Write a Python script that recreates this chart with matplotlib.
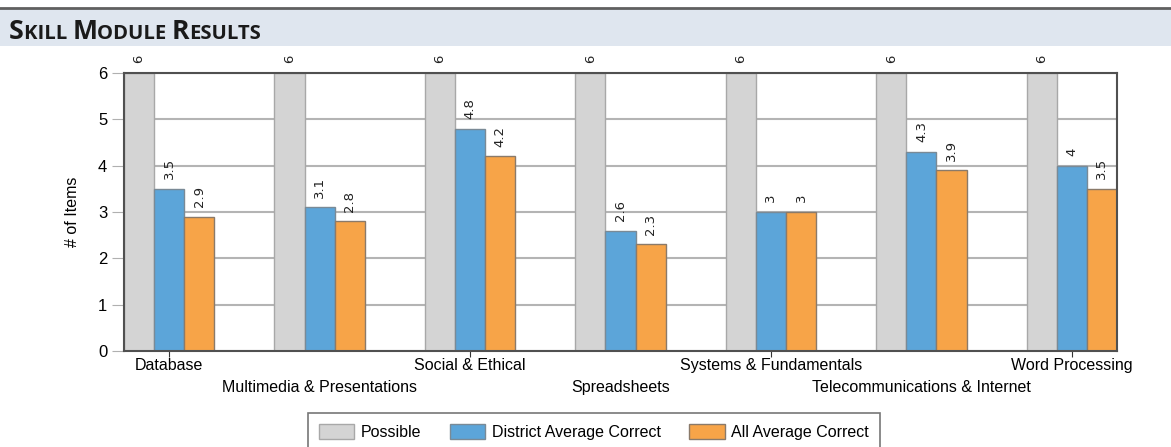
import matplotlib.pyplot as plt
import numpy as np

# categorias e valores
categorias = ['Database', 'Multimedia & Presentations', 'Social & Ethical',
              'Spreadsheets', 'Systems & Fundamentals',
              'Telecommunications & Internet', 'Word Processing']
possible = [6, 6, 6, 6, 6, 6, 6]
district = [3.5, 3.1, 4.8, 2.6, 3, 4.3, 4]
all_avg = [2.9, 2.8, 4.2, 2.3, 3, 3.9, 3.5]
series_names = ['Possible', 'District Average Correct', 'All Average Correct']

cinza = '#d4d4d4'
azul = '#5ca5d9'
laranja = '#f7a448'

fig = plt.figure(figsize=(11.71, 4.47), dpi=100)

# faixa do titulo
fig.patches.append(plt.Rectangle((0, 1 - 46 / 447), 1, 38 / 447, transform=fig.transFigure,
                                 facecolor='#dfe6ef', edgecolor='none', zorder=0))
fig.lines.append(plt.Line2D([0, 1], [1 - 8 / 447, 1 - 8 / 447], transform=fig.transFigure,
                            color='#606060', lw=2))

# titulo em "small caps"
pedacos = [('S', 19.2), ('KILL ', 14.6), ('M', 19.2), ('ODULE ', 14.6), ('R', 19.2), ('ESULTS', 14.6)]
r = fig.canvas.get_renderer()
x = 9 / 1171
for txt, sz in pedacos:
    t = fig.text(x, 1 - 39 / 447, txt, fontsize=sz, fontweight='bold', color='#1a1a1a',
                 family='Open Sans', va='baseline')
    bb = t.get_window_extent(renderer=r)
    x += bb.width / 1171

ax = fig.add_axes([124 / 1171, 1 - 351 / 447, 993 / 1171, 278 / 447])
idx = np.arange(len(categorias))
w = 0.2
b1 = ax.bar(idx - w, possible, w, color=cinza, edgecolor='#a8a8a8', lw=1, zorder=2)
b2 = ax.bar(idx, district, w, color=azul, edgecolor='#7a8a96', lw=1, zorder=2)
b3 = ax.bar(idx + w, all_avg, w, color=laranja, edgecolor='#8a7a6a', lw=1, zorder=2)

for bars, vals in [(b1, possible), (b2, district), (b3, all_avg)]:
    for b, v in zip(bars, vals):
        ax.annotate(f'{v:g}', (b.get_x() + b.get_width() / 2, v), xytext=(0, 7),
                    textcoords='offset points', rotation=90, ha='center', va='bottom',
                    fontsize=9.5, color='#222222', annotation_clip=False)

ax.set_xlim(-1.5 * w, len(categorias) - 1 + 1.5 * w)
ax.set_ylim(0, 6)
ax.set_yticks(range(7))
ax.yaxis.grid(True, color='#b4b4b4', lw=1.5, zorder=0)
ax.set_axisbelow(True)
ax.tick_params(axis='y', length=9, color='#b0b0b0', labelsize=12, pad=3)
for lab in ax.get_yticklabels():
    lab.set_family('Liberation Sans')

# rótulos alternados: pares em cima (com tick), ímpares embaixo
ax.set_xticks(idx[::2])
ax.set_xticklabels(categorias[::2], family='Liberation Sans', fontsize=11.5)
ax.set_xticks(idx[1::2], minor=True)
ax.set_xticklabels(categorias[1::2], minor=True, family='Liberation Sans', fontsize=11.5)
ax.tick_params(axis='x', which='major', length=4, color='#333333', pad=1)
ax.tick_params(axis='x', which='minor', length=0, pad=21)

for s in ax.spines.values():
    s.set_color('#505050')
    s.set_linewidth(1.5)

ax.set_ylabel('# of Items', family='Liberation Sans', fontsize=11.5, labelpad=13)

leg = fig.legend([b1, b2, b3], series_names, loc='lower center', ncol=3,
                 bbox_to_anchor=(594 / 1171, -12 / 447), frameon=True, fancybox=False,
                 edgecolor='#555555', prop={'family': 'Liberation Sans', 'size': 11.5},
                 handlelength=2.2, handleheight=1.0, handletextpad=0.4,
                 columnspacing=1.8, borderpad=0.7)
leg.get_frame().set_linewidth(1.2)

plt.savefig('out.png', dpi=100)
